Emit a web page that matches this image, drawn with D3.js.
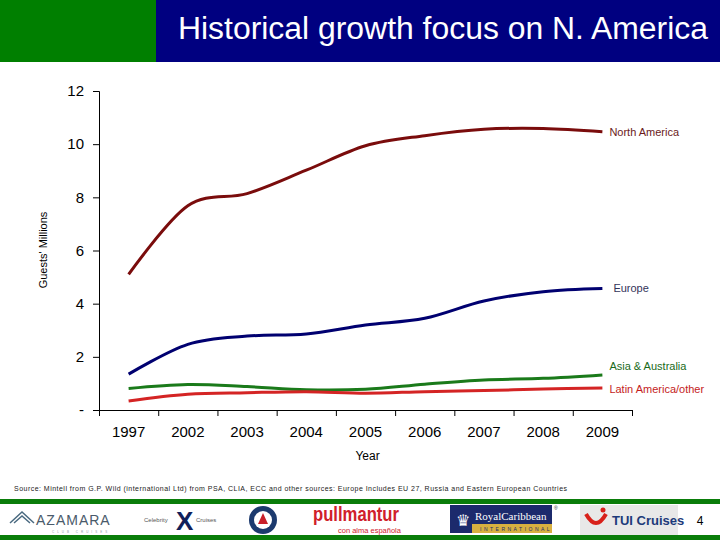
<!DOCTYPE html>
<html>
<head>
<meta charset="utf-8">
<script src="https://cdn.jsdelivr.net/npm/d3@7"></script>
<style>
  body { margin: 0; background: #fff; }
  svg { display: block; font-family: "Liberation Sans", Arial, sans-serif; }
</style>
</head>
<body>
<div id="chart"></div>
<script>
// Values (guests, millions)
var years         = ["1997", "2002", "2003", "2004", "2005", "2006", "2007", "2008", "2009"];
var northAmerica  = [5.10, 7.68, 8.14, 9.02, 9.94, 10.32, 10.56, 10.59, 10.47];
var europe        = [1.35, 2.47, 2.78, 2.86, 3.20, 3.45, 4.10, 4.45, 4.57];
var asiaAustralia = [0.81, 0.96, 0.88, 0.76, 0.78, 0.97, 1.13, 1.19, 1.32];
var latinAmerica  = [0.34, 0.59, 0.65, 0.69, 0.63, 0.69, 0.73, 0.79, 0.83];
var yTicks        = [0, 2, 4, 6, 8, 10, 12];

var seriesNames  = ["North America", "Europe", "Asia & Australia", "Latin America/other"];
var seriesValues = [northAmerica, europe, asiaAustralia, latinAmerica];

var W = 720, H = 540;
var svg = d3.select("#chart").append("svg")
  .attr("width", W)
  .attr("height", H);

/*
 * Title bar
 */
svg.append("rect").attr("x", 0).attr("y", 0).attr("width", 156).attr("height", 62).attr("fill", "#007f00");
svg.append("rect").attr("x", 156).attr("y", 0).attr("width", W - 156).attr("height", 62).attr("fill", "#000080");
svg.append("text")
  .attr("x", 178)
  .attr("y", 39)
  .attr("fill", "#fff")
  .attr("font-size", 31)
  .attr("textLength", 530)
  .attr("lengthAdjust", "spacingAndGlyphs")
  .text("Historical growth focus on N. America");

/*
 * Chart area
 */
var plotLeft = 99, plotRight = 632, plotTop = 91, plotBottom = 410;

var x  = d3.scaleBand().domain(years).range([plotLeft, plotRight]).padding(0);
var xb = d3.scaleLinear().domain([0, years.length]).range([plotLeft, plotRight]);
var y  = d3.scaleLinear().domain([0, 12]).range([plotBottom, plotTop]);

// y axis
var yAxis = svg.append("g")
  .attr("transform", "translate(" + plotLeft + ",0)")
  .call(d3.axisLeft(y)
    .tickValues(yTicks)
    .tickSizeOuter(0)
    .tickSize(6)
    .tickPadding(9)
    .tickFormat(function(d) { return d === 0 ? "-" : d; }));
yAxis.selectAll("text").attr("font-size", 15).attr("fill", "#000")
  .attr("font-family", "Liberation Sans, Arial, sans-serif");
yAxis.selectAll("line, path").attr("stroke", "#000");

// x axis: ticks fall on category boundaries, labels at the centres
var xAxis = svg.append("g")
  .attr("transform", "translate(0," + plotBottom + ")")
  .call(d3.axisBottom(xb)
    .tickValues(d3.range(0, years.length + 1))
    .tickSizeOuter(0)
    .tickSize(6)
    .tickFormat(""));
xAxis.selectAll("line, path").attr("stroke", "#000");

var xLabels = svg.append("g")
  .attr("transform", "translate(0," + plotBottom + ")")
  .call(d3.axisBottom(x).tickSize(0).tickPadding(16));
xLabels.select(".domain").remove();
xLabels.selectAll("text").attr("font-size", 15).attr("fill", "#000")
  .attr("font-family", "Liberation Sans, Arial, sans-serif");

// axis titles
svg.append("text")
  .attr("x", (plotLeft + plotRight) / 2 + 2)
  .attr("y", 460)
  .attr("text-anchor", "middle")
  .attr("font-size", 12)
  .text("Year");

svg.append("text")
  .attr("transform", "translate(47,250) rotate(-90)")
  .attr("text-anchor", "middle")
  .attr("font-size", 11)
  .text("Guests' Millions");

/*
 * Series lines
 */
var lineColours  = ["#7a0c0c", "#000070", "#1a7a1a", "#d42424"];
var labelColours = ["#6a1a1a", "#33335a", "#1a6a1a", "#c41c1c"];
var labelOffsets = [0, 4, 0, 0];
var labelDy      = [0, -1, -9, 1];

var line = d3.line()
  .x(function(d, i) { return x(years[i]) + x.bandwidth() / 2; })
  .y(function(d) { return y(d); })
  .curve(d3.curveCatmullRom.alpha(0));

seriesValues.forEach(function(vals, s) {
  svg.append("path")
    .datum(vals)
    .attr("d", line)
    .attr("fill", "none")
    .attr("stroke", lineColours[s])
    .attr("stroke-width", 3)
    .attr("stroke-linejoin", "round");

  var last = vals[vals.length - 1];
  svg.append("text")
    .attr("x", x(years[years.length - 1]) + x.bandwidth() / 2 + 7 + labelOffsets[s])
    .attr("y", y(last) + 4 + labelDy[s])
    .attr("font-size", 11)
    .attr("fill", labelColours[s])
    .text(seriesNames[s]);
});

/*
 * Footer: source note, green rules and brand strip
 */
svg.append("text")
  .attr("x", 14)
  .attr("y", 491)
  .attr("font-size", 7)
  .attr("fill", "#222")
  .attr("textLength", 553)
  .text("Source: Mintell from G.P. Wild (international Ltd) from PSA, CLIA, ECC and other sources:  Europe Includes EU 27, Russia and Eastern European Countries");

svg.append("rect").attr("x", 0).attr("y", 499).attr("width", W).attr("height", 5).attr("fill", "#0a7d0a");
svg.append("rect").attr("x", 0).attr("y", 535).attr("width", W).attr("height", 5).attr("fill", "#0a7d0a");

var strip = svg.append("g");

// Azamara
strip.append("path")
  .attr("d", "M10,523 L22,512 L34,523 M14,523 L22,516 L30,523")
  .attr("fill", "none").attr("stroke", "#4a6a80").attr("stroke-width", 1.5);
strip.append("text").attr("x", 36).attr("y", 525).attr("font-size", 14)
  .attr("fill", "#4a5a6a").attr("letter-spacing", 1).text("AZAMARA");
strip.append("text").attr("x", 52).attr("y", 533).attr("font-size", 3)
  .attr("fill", "#8a9aa8").attr("letter-spacing", 3).text("CLUB CRUISES");

// Celebrity
strip.append("text").attr("x", 144).attr("y", 522).attr("font-size", 6).attr("fill", "#555").text("Celebrity");
strip.append("text").attr("x", 176).attr("y", 530).attr("font-size", 26).attr("font-weight", "bold")
  .attr("fill", "#10205a").text("X");
strip.append("text").attr("x", 196).attr("y", 522).attr("font-size", 6).attr("fill", "#555").text("Cruises");

// Round emblem
strip.append("circle").attr("cx", 263).attr("cy", 520).attr("r", 14).attr("fill", "#1c3a6e");
strip.append("circle").attr("cx", 263).attr("cy", 520).attr("r", 9).attr("fill", "#fff");
strip.append("path").attr("d", "M263,513 L268,524 L258,524 Z").attr("fill", "#c8202a");

// Pullmantur
strip.append("text").attr("x", 313).attr("y", 521).attr("font-size", 20).attr("font-weight", "bold")
  .attr("fill", "#d0202a").attr("textLength", 86).attr("lengthAdjust", "spacingAndGlyphs").text("pullmantur");
strip.append("text").attr("x", 338).attr("y", 533).attr("font-size", 7.5)
  .attr("fill", "#d0202a").text("con alma española");

// Royal Caribbean
strip.append("rect").attr("x", 450).attr("y", 505).attr("width", 102).attr("height", 28).attr("fill", "#1c2a6c");
strip.append("rect").attr("x", 472).attr("y", 524).attr("width", 80).attr("height", 9).attr("fill", "#d8b040");
strip.append("text").attr("x", 475).attr("y", 520).attr("font-size", 11)
  .attr("font-family", "Liberation Serif, serif").attr("fill", "#fff").text("RoyalCaribbean");
strip.append("text").attr("x", 480).attr("y", 531).attr("font-size", 5)
  .attr("fill", "#1c2a6c").attr("letter-spacing", 2.5).text("INTERNATIONAL");
strip.append("text").attr("x", 456).attr("y", 526).attr("font-size", 16).attr("fill", "#fff").text("♛");
strip.append("text").attr("x", 554).attr("y", 510).attr("font-size", 5).attr("fill", "#333").text("®");

// TUI Cruises
strip.append("rect").attr("x", 580).attr("y", 505).attr("width", 98).attr("height", 30).attr("fill", "#e8e8e8");
strip.append("path").attr("d", "M586,514 Q596,532 606,514").attr("fill", "none")
  .attr("stroke", "#d8201a").attr("stroke-width", 4);
strip.append("circle").attr("cx", 603).attr("cy", 510).attr("r", 2.5).attr("fill", "#d8201a");
strip.append("text").attr("x", 612).attr("y", 525).attr("font-size", 13).attr("font-weight", "bold")
  .attr("fill", "#1c3a7a").text("TUI Cruises");

// page number
svg.append("text").attr("x", 700).attr("y", 525).attr("text-anchor", "middle")
  .attr("font-size", 12).text("4");
</script>
</body>
</html>
